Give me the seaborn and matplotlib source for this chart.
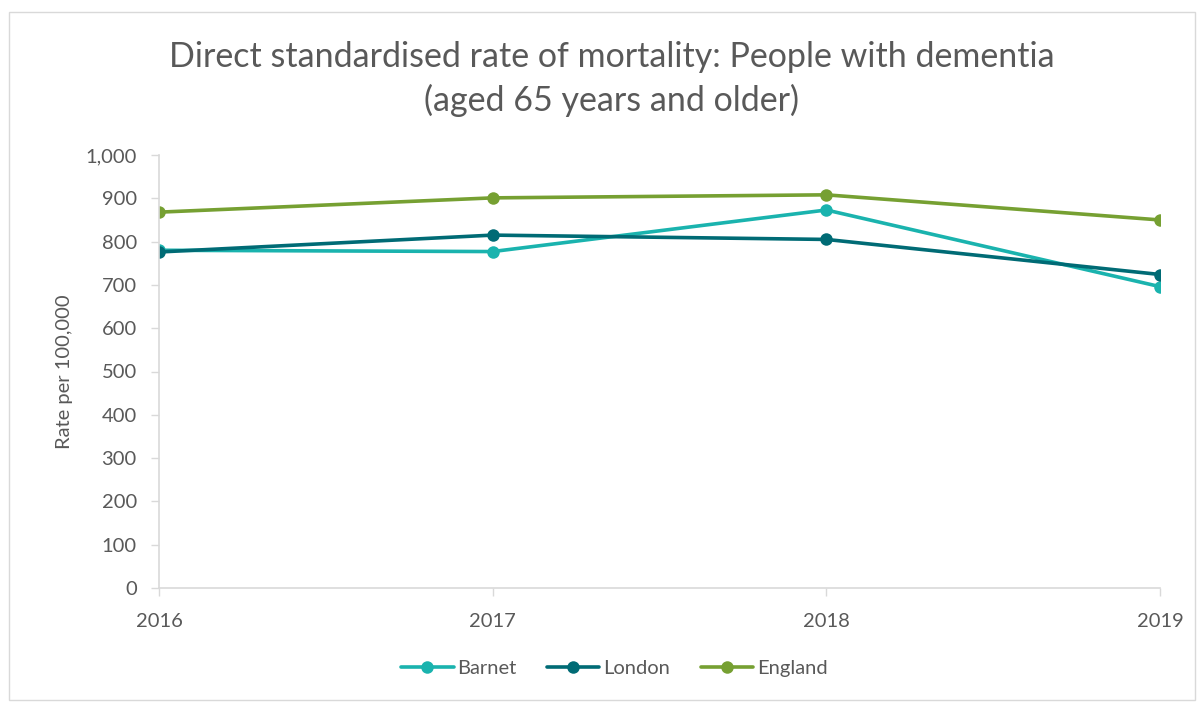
import matplotlib
matplotlib.use("Agg")
import matplotlib.pyplot as plt
import seaborn as sns
import pandas as pd
from matplotlib.patches import Rectangle
from matplotlib.lines import Line2D

years = [2016, 2017, 2018, 2019]
barnet = [780, 777, 873, 696]
london = [776, 815, 805, 724]
england = [868, 901, 908, 850]
series_names = ["Barnet", "London", "England"]
colors = ["#1AB3AE", "#006B75", "#76A032"]

sns.set_theme(style="white")
plt.rcParams["font.family"] = ["Lato", "DejaVu Sans"]

df = pd.DataFrame({
    "Year": years * 3,
    "Rate": barnet + london + england,
    "Area": [n for n in series_names for _ in years],
})

fig = plt.figure(figsize=(12, 7.02), dpi=100)
ax = fig.add_axes([159 / 1200, 1 - 588 / 702, (1160 - 159) / 1200, (588 - 155) / 702])

sns.lineplot(data=df, x="Year", y="Rate", hue="Area", palette=colors,
             marker="o", markersize=9, markeredgewidth=0, linewidth=2.6,
             ax=ax, legend=False)

ax.set_xlim(2016, 2019)
ax.set_ylim(0, 1000)
ax.set_xticks(years)
ax.set_xticklabels([str(y) for y in years])
ax.set_yticks(range(0, 1001, 100))
ax.set_yticklabels([f"{v:,}" for v in range(0, 1001, 100)])
ax.tick_params(axis="both", colors="#D9D9D9", labelcolor="#595959",
               labelsize=14.5, length=6, width=1, direction="out",
               left=True, bottom=True)
ax.tick_params(axis="y", pad=10)
ax.tick_params(axis="x", pad=12)
for s in ["top", "right"]:
    ax.spines[s].set_visible(False)
for s in ["left", "bottom"]:
    ax.spines[s].set_color("#D9D9D9")
    ax.spines[s].set_linewidth(1.2)
ax.set_xlabel("")
ax.set_ylabel("Rate per 100,000", color="#595959", fontsize=14.5, labelpad=9)

fig.text(0.51, 1 - 79 / 702,
         "Direct standardised rate of mortality: People with dementia\n(aged 65 years and older)",
         ha="center", va="center", fontsize=24.5, color="#595959", linespacing=1.4)

# Legend
handles = [Line2D([], [], color=c, marker="o", markersize=9, markeredgewidth=0,
                  linewidth=2.6) for c in colors]
fig.legend(handles, series_names, loc="center", bbox_to_anchor=(0.512, 1 - 668 / 702),
           ncol=3, frameon=False, fontsize=14.5, labelcolor="#595959",
           handlelength=2.6, handletextpad=0.2, columnspacing=1.5)

# Chart border
fig.patches.append(Rectangle((9 / 1200, 1 - 700 / 702), 1186 / 1200, 688 / 702,
                             transform=fig.transFigure, fill=False,
                             edgecolor="#D9D9D9", linewidth=1))

fig.savefig("out.png", dpi=100, facecolor="white")
